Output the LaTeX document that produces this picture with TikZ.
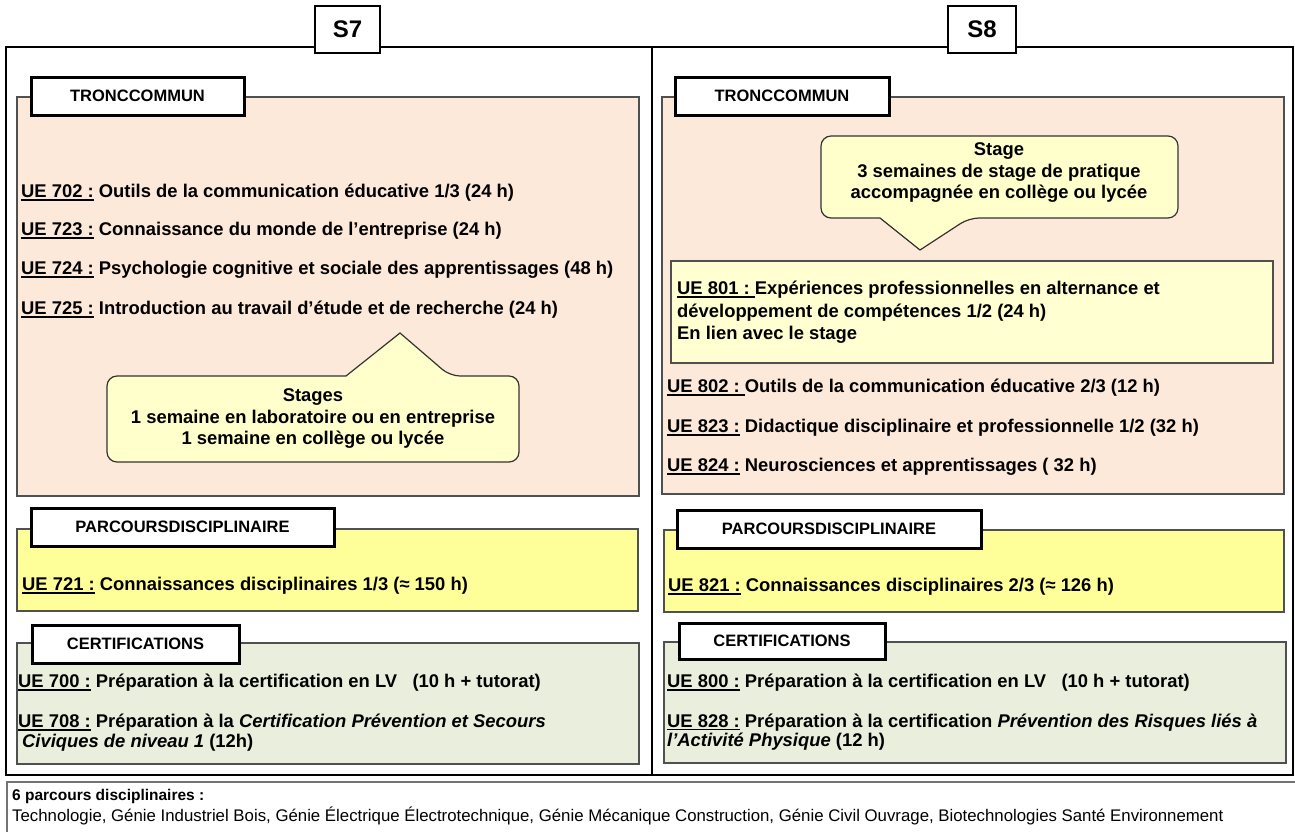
\documentclass[tikz,border=0pt]{standalone}
\usepackage{fontspec}
\setmainfont{Liberation Sans}
\definecolor{peach}{HTML}{FDE9D9}
\definecolor{parc}{HTML}{FFFF99}
\definecolor{callfill}{HTML}{FFFFCC}
\definecolor{uebox}{HTML}{FFFFD2}
\definecolor{certf}{HTML}{EAEEDC}
\definecolor{edge}{HTML}{505050}
\newcommand{\ueu}[1]{\setbox0=\hbox{#1}\rlap{\rule[-3pt]{\wd0}{1.6pt}}\box0\relax}
\tikzset{
  outer/.style={draw=black, line width=2.5pt},
  hdr/.style={draw=black, line width=2pt, fill=white, inner sep=0pt, font=\fontsize{24}{28}\selectfont\bfseries},
  sect/.style={draw=edge, line width=1.2pt},
  lab/.style={draw=black, line width=3pt, fill=white, inner sep=0pt, font=\fontsize{16.5}{19}\selectfont\bfseries},
  txt/.style={anchor=west, inner sep=0pt, align=left, font=\fontsize{18.4}{21.5}\selectfont\bfseries},
  calltxt/.style={inner sep=0pt, align=center, font=\fontsize{18.4}{21.5}\selectfont\bfseries},
  callout/.style={draw=black!80, line width=1.2pt, fill=callfill},
  note/.style={anchor=west, inner sep=0pt, align=left, font=\fontsize{16.8}{20}\selectfont}
}
\begin{document}
\begin{tikzpicture}[x=1pt,y=-1pt]
\useasboundingbox (0,0) rectangle (1295,831);
% outer semester frames
\draw[outer] (6,47) rectangle (652,775);
\draw[outer] (652,47) rectangle (1293,775);
\node[hdr, minimum width=65, minimum height=47] (s7) at (347.5,29.5) {S7};
\node[hdr, minimum width=68, minimum height=47] (s8) at (982,29.5) {S8};

% ---------------- S7 ----------------
\draw[sect, fill=peach] (17,97) rectangle (639,496);
\node[lab, minimum width=213, minimum height=38] (t7) at (137.5,96) {TRONCCOMMUN};
\node[txt] (u702) at (21,193) {\ueu{UE 702 :} Outils de la communication éducative 1/3 (24 h)};
\node[txt] (u723) at (21,231) {\ueu{UE 723 :} Connaissance du monde de l’entreprise (24 h)};
\node[txt] (u724) at (21,270) {\ueu{UE 724 :} Psychologie cognitive et sociale des apprentissages (48 h)};
\node[txt] (u725) at (21,310) {\ueu{UE 725 :} Introduction au travail d’étude et de recherche (24 h)};
\draw[callout] (200,376) [rounded corners=10] -- (107,376) -- (107,462) -- (519,462) -- (519,376) -- (450,376) [sharp corners] -- (400,333) -- (346,376) -- cycle;
\node[calltxt] (st7) at (313,419) {Stages\\1 semaine en laboratoire ou en entreprise\\1 semaine en collège ou lycée};

\draw[sect, fill=parc] (17,529) rectangle (638,611);
\node[lab, minimum width=303, minimum height=38] (p7) at (182.5,527) {PARCOURSDISCIPLINAIRE};
\node[txt] (u721) at (22,586) {\ueu{UE 721 :} Connaissances disciplinaires 1/3 (≈ 150 h)};

\draw[sect, fill=certf] (17,643) rectangle (639,764);
\node[lab, minimum width=207, minimum height=38] (c7) at (135.5,644) {CERTIFICATIONS};
\node[txt] (u700) at (18,683) {\ueu{UE 700 :} Préparation à la certification en LV\ \ \ (10 h + tutorat)};
\node[txt, font=\fontsize{18.4}{19.5}\selectfont\bfseries] (u708) at (18,732.5) {\ueu{UE 708 :} Préparation à la \textit{Certification Prévention et Secours}\\\hspace{4pt}\textit{Civiques de niveau 1} (12h)};

% ---------------- S8 ----------------
\draw[sect, fill=peach] (662,97) rectangle (1284,494);
\node[lab, minimum width=214, minimum height=38] (t8) at (782,96) {TRONCCOMMUN};
\draw[callout] (1000,136) [rounded corners=10] -- (1178,136) -- (1178,218) -- (969,218) [sharp corners] -- (920,250) -- (880,218) [rounded corners=10] -- (821,218) -- (821,136) -- cycle;
\node[calltxt] (st8) at (999,173) {Stage\\3 semaines de stage de pratique\\accompagnée en collège ou lycée};
\draw[sect, fill=uebox] (671,261) rectangle (1273,363);
\node[txt, font=\fontsize{18.4}{22.5}\selectfont\bfseries] (u801) at (677,312.5) {\ueu{UE 801 :\ }Expériences professionnelles en alternance et\\développement de compétences 1/2 (24 h)\\En lien avec le stage};
\node[txt] (u802) at (667,388) {\ueu{UE 802 :\ }Outils de la communication éducative 2/3 (12 h)};
\node[txt] (u823) at (667,428) {\ueu{UE 823 :} Didactique disciplinaire et professionnelle 1/2 (32 h)};
\node[txt] (u824) at (667,467) {\ueu{UE 824 :} Neurosciences et apprentissages ( 32 h)};

\draw[sect, fill=parc] (664,530) rectangle (1284,612);
\node[lab, minimum width=304, minimum height=38] (p8) at (829,529) {PARCOURSDISCIPLINAIRE};
\node[txt] (u821) at (668,587) {\ueu{UE 821 :} Connaissances disciplinaires 2/3 (≈ 126 h)};

\draw[sect, fill=certf] (664,642) rectangle (1286,763);
\node[lab, minimum width=206, minimum height=36] (c8) at (782,641) {CERTIFICATIONS};
\node[txt] (u800) at (667,683) {\ueu{UE 800 :} Préparation à la certification en LV\ \ \ (10 h + tutorat)};
\node[txt, font=\fontsize{18.4}{19.5}\selectfont\bfseries] (u828) at (667,732) {\ueu{UE 828 :} Préparation à la certification \textit{Prévention des Risques liés à}\\\textit{l’Activité Physique} (12 h)};

% ---------------- bottom note ----------------
\draw[draw=black!55, line width=2.5pt] (7,782) rectangle (1310,850);
\node[note, font=\fontsize{15.5}{19}\selectfont\bfseries] (n1) at (12,796) {6 parcours disciplinaires :};
\node[note] (n2) at (12,816) {Technologie, Génie Industriel Bois, Génie Électrique Électrotechnique, Génie Mécanique Construction, Génie Civil Ouvrage, Biotechnologies Santé Environnement};
\end{tikzpicture}
\end{document}
